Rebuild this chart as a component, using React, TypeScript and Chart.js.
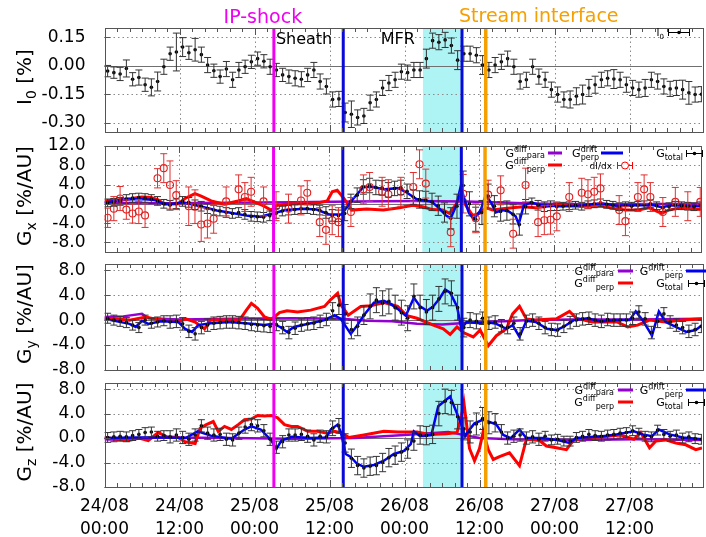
import React, { useEffect, useRef } from 'react';
import { Chart, registerables } from 'chart.js';
Chart.register(...registerables);

const FAM = '"DejaVu Sans", sans-serif';
const X_MAX = 95.6;

// Event times (hours since 24/08 00:00)
const EVT_SHOCK = 27.1;
const EVT_MFR_START = 38.2;
const EVT_CYAN_START = 50.95;
const EVT_MFR_END = 57.2;
const EVT_STREAM = 61.0;

const HOURS = [0.5,1.5,2.5,3.5,4.5,5.5,6.5,7.5,8.5,9.5,10.5,11.5,12.5,13.5,14.5,15.5,16.5,17.5,18.5,19.5,
  20.5,21.5,22.5,23.5,24.5,25.5,26.5,27.5,28.5,29.5,30.5,31.5,32.5,33.5,34.5,35.5,36.5,37.5,38.5,39.5,
  40.5,41.5,42.5,43.5,44.5,45.5,46.5,47.5,48.5,49.5,50.5,51.5,52.5,53.5,54.5,55.5,56.5,57.5,58.5,59.5,
  60.5,61.5,62.5,63.5,64.5,65.5,66.5,67.5,68.5,69.5,70.5,71.5,72.5,73.5,74.5,75.5,76.5,77.5,78.5,79.5,
  80.5,81.5,82.5,83.5,84.5,85.5,86.5,87.5,88.5,89.5,90.5,91.5,92.5,93.5,94.5,95.5];

const I0_V = [-0.028,-0.036,-0.043,-0.014,-0.071,-0.062,-0.10,-0.114,-0.083,-0.005,
  0.064,0.073,0.099,0.069,0.085,0.059,0.004,-0.026,-0.057,-0.017,
  -0.074,-0.022,-0.005,0.021,0.038,0.024,-0.005,-0.022,-0.048,-0.057,
  -0.066,-0.071,-0.048,-0.022,-0.083,-0.109,-0.178,-0.175,-0.247,-0.256,
  -0.273,-0.265,-0.195,-0.178,-0.117,-0.091,-0.074,-0.031,-0.036,-0.022,
  -0.022,0.038,0.133,0.125,0.137,0.107,0.030,0.064,0.064,0.056,
  0.004,-0.022,0.004,0.021,0.038,-0.005,-0.083,-0.074,-0.005,-0.057,
  -0.074,-0.126,-0.152,-0.178,-0.178,-0.161,-0.152,-0.117,-0.100,-0.074,
  -0.066,-0.070,-0.074,-0.100,-0.117,-0.126,-0.117,-0.074,-0.083,-0.109,
  -0.122,-0.117,-0.126,-0.143,-0.152,-0.150];
const I0_E = [0.03,0.03,0.035,0.045,0.035,0.04,0.035,0.045,0.05,0.04,
  0.035,0.1,0.05,0.035,0.06,0.04,0.04,0.035,0.035,0.04,
  0.04,0.04,0.035,0.035,0.035,0.035,0.04,0.035,0.035,0.035,
  0.04,0.04,0.035,0.04,0.04,0.04,0.04,0.04,0.05,0.07,
  0.04,0.04,0.04,0.04,0.04,0.04,0.04,0.04,0.04,0.04,
  0.04,0.05,0.04,0.04,0.04,0.04,0.05,0.04,0.04,0.04,
  0.05,0.04,0.04,0.04,0.04,0.04,0.04,0.04,0.04,0.04,
  0.04,0.04,0.04,0.04,0.045,0.045,0.05,0.045,0.045,0.04,
  0.04,0.05,0.04,0.04,0.04,0.04,0.045,0.04,0.04,0.04,
  0.04,0.04,0.05,0.06,0.04,0.04];

// ---- Gx ----
const GX_V = [0.2,0.3,0.5,1.0,1.2,1.3,1.2,1.0,0.6,0.0,
  -0.3,0.0,0.5,0.3,-0.2,-0.5,-1.0,-1.3,-1.5,-1.8,
  -2.0,-1.8,-2.2,-2.6,-2.7,-2.8,-2.5,-2.0,-1.5,-1.3,
  -1.2,-1.0,-1.0,-1.2,-1.3,-1.8,-2.4,-2.5,-2.0,0.5,
  1.8,3.5,3.8,3.4,3.3,2.9,3.2,3.4,2.6,1.4,
  0.9,0.8,0.4,-0.4,-1.8,-3.0,-0.5,3.8,0.0,-3.2,
  -1.8,1.6,-0.5,-1.6,-1.4,-2.2,-4.3,-0.6,0.2,-0.3,
  -0.6,-0.4,-0.6,-0.5,-0.4,-0.3,-0.5,-0.2,0.0,0.2,
  -0.1,-0.3,-0.6,-0.4,-0.5,-0.3,-0.2,0.0,-0.4,-0.8,
  -0.6,-0.3,-0.4,-0.5,-0.6,-0.4];
const GX_E = [0.8,0.8,0.8,0.9,0.9,0.9,0.9,0.9,0.9,0.9,
  1.0,1.0,1.0,1.0,1.0,1.0,1.0,1.0,1.0,1.0,
  1.0,1.0,1.0,1.0,1.0,1.0,1.0,1.0,1.0,1.0,
  1.0,1.0,1.0,1.0,1.0,1.2,1.2,1.2,1.5,1.5,
  1.5,1.5,1.5,1.5,1.5,1.5,1.5,1.5,1.5,1.5,
  1.8,1.8,1.8,2.0,2.0,2.2,2.5,3.0,2.5,2.5,
  2.5,2.5,2.2,2.0,2.0,2.0,2.2,1.5,1.0,1.0,
  1.0,1.0,0.8,0.8,0.8,0.8,0.8,0.8,0.8,0.8,
  0.8,0.8,0.8,0.8,0.8,0.8,0.8,0.8,0.8,0.8,
  0.8,0.8,0.8,0.8,0.8,0.8];
const DIDX_T = [0.5,1.5,2.5,3.5,4.5,5.5,6.5,8.5,9.5,10.5,11.5,13.5,14.5,15.5,16.5,17.5,19.5,21.5,22.5,23.5,
  25.5,27.5,29.5,31.5,32.5,34.5,35.5,36.5,37.5,39.5,41.5,42.5,44.5,45.5,47.5,49.5,50.5,51.5,55.5,57.5,
  59.5,61.5,63.5,65.5,67.5,69.5,70.5,71.5,72.5,74.5,76.5,77.5,78.5,79.5,82.5,83.5,85.5,86.5,87.5,89.5,
  91.5,93.5,95.5];
const DIDX_V = [-2.9,-1.0,1.1,-1.2,-2.0,-1.6,-2.4,5.3,7.4,3.9,1.8,-0.5,-0.6,-4.3,-4.1,-3.1,0.5,3.0,1.4,2.5,
  0.5,-0.5,-1.0,0.7,2.3,-3.8,-5.4,-3.4,-3.8,-1.7,3.0,3.5,2.5,2.0,2.5,3.5,8.2,4.2,-5.9,2.1,
  -3.0,1.9,2.8,-6.2,3.9,-3.8,-3.4,-3.3,-2.6,1.4,2.3,2.0,2.5,3.2,-1.3,-3.6,1.4,3.0,1.4,-1.7,
  0.4,-0.5,0.4];
const DIDX_E = [2.0,2.5,2.5,2.0,2.0,2.5,2.5,2.0,3.0,5.0,3.0,4.0,3.5,3.5,3.0,3.0,3.0,3.0,3.0,3.0,
  3.0,3.0,3.0,3.0,2.5,3.0,3.0,3.0,3.0,3.0,3.0,3.0,3.0,3.0,3.0,3.0,3.0,3.0,3.0,4.0,
  3.0,3.0,3.0,3.0,3.5,3.0,3.0,3.0,3.0,3.0,3.0,3.0,3.0,3.0,3.0,3.0,3.0,3.0,3.0,3.0,
  3.0,3.0,3.0];
const GX_DIFF_PARA: [number, number][] = [[0,0.2],[10,0.1],[20,0.2],[30,0.3],[40,0.5],[50,0.6],[58,0.5],[62,0.3],[70,0],[80,-0.1],[95.6,0]];
const GX_DIFF_PERP: [number, number][] = [[0,0.6],[2,0.8],[4.3,1.1],[6,1.4],[7.5,1.3],[8.6,0.8],[9.6,-0.1],[11.8,0],[12.9,1.1],[14.5,2.1],
  [15.5,1.6],[17.1,0.6],[19.2,-0.1],[21.4,0.6],[22.7,1.1],[24,0.4],[25.6,-0.5],[26.7,-1.3],[27.7,-0.3],[29.9,0],
  [33.6,0],[35.7,0.6],[36.5,2.5],[37.3,2.8],[38.4,1.1],[39.1,-0.3],[39.6,-1.3],[42,-1.1],[44.7,-1.3],[47.3,-0.8],
  [49.4,-0.3],[51,-0.6],[52.6,-1.2],[54.2,-1.3],[55.3,-2.0],[56.4,0],[57.1,1.9],[57.9,-0.3],[59,-2.4],[60.1,-2.0],
  [61.1,-0.8],[62.2,-1.3],[63.8,-1.0],[67,-0.6],[69.1,-0.8],[72.3,-0.3],[76.5,-0.5],[79.7,-0.5],[81.9,-1.0],[83.5,-1.3],
  [85.6,-1.3],[87.2,-0.8],[89.3,-2.0],[90.4,-1.3],[92.5,-0.8],[95.6,-1.2]];
const GX_DRIFT_PERP: [number, number][] = [[0,0.2],[3,0.9],[6,1.0],[8,0.8],[9.5,0],[11,0],[12.5,0.3],[15,-0.4],[18,-1.4],[20,-1.8],
  [23,-2.5],[25,-2.7],[27,-2.0],[29,-1.3],[32,-1.0],[34,-1.2],[36,-2.2],[38,-2.2],[39.5,0.5],[41.5,3.5],
  [43,3.5],[45,3.0],[47,3.3],[48.5,2.3],[50,1.0],[52.5,0.4],[53.7,-1.0],[54.7,-2.4],[55.5,-3.0],[56.4,-0.3],
  [57.1,3.6],[57.6,1.4],[58.4,-1.9],[59.2,-3.2],[60.3,-1.3],[61.1,1.8],[62,0.2],[62.7,-1.8],[63.8,-1.3],[64.8,-1.6],
  [65.9,-2.6],[66.4,-4.2],[67.2,-0.4],[68.3,0.3],[70,-0.3],[73,-0.5],[76,-0.4],[79.7,0.1],[82,-0.4],[86,-0.3],
  [88,-0.3],[89.3,-0.7],[91,-0.3],[95.6,-0.5]];

// ---- Gy ----
const GY_V = [0.3,0.0,-0.2,-0.4,-0.8,-1.2,0.0,-0.5,-0.3,-0.1,
  -0.3,-0.2,-0.6,-1.8,-2.2,-1.2,-0.8,-0.5,-0.4,-0.3,
  -0.3,-0.4,-0.5,-0.7,-0.8,-0.9,-1.0,-0.7,-1.2,-2.0,
  -1.3,-0.8,-0.6,-0.5,-0.2,0.1,1.5,2.4,1.0,-1.5,
  -1.0,0.8,2.2,3.2,2.7,3.0,2.0,1.2,0.3,3.8,
  2.0,1.3,2.0,3.4,4.6,4.3,2.0,-1.2,0.0,-0.2,
  0.3,-0.5,-0.3,-0.9,-1.2,-0.5,-2.2,-0.2,0.0,-0.5,
  -1.2,-1.5,-1.6,-1.0,-0.4,0.0,0.2,0.3,0.0,-0.2,
  0.1,0.0,0.0,0.0,0.3,1.3,0.2,-2.0,-0.2,1.0,
  -0.3,-0.8,-1.2,-1.8,-1.5,-1.0];
const GY_E = [0.8,0.8,0.8,0.8,0.8,0.8,0.8,0.8,0.8,0.8,
  1.0,1.0,1.0,1.0,1.0,1.0,1.0,1.0,1.0,1.0,
  1.0,1.0,1.0,1.0,1.0,1.0,1.0,1.0,1.0,1.0,
  1.0,1.0,1.0,1.0,1.0,1.0,1.3,1.5,1.5,1.5,
  1.5,1.5,2.0,2.0,2.0,2.0,2.0,2.0,2.0,2.0,
  2.0,2.0,2.0,2.0,2.0,2.0,2.0,1.5,1.2,1.2,
  1.0,1.0,1.0,1.0,1.0,1.0,1.0,1.0,1.0,1.0,
  1.0,1.0,1.0,1.0,1.0,1.0,1.0,1.0,1.0,1.0,
  1.0,1.0,1.0,1.0,1.0,1.0,1.0,1.0,1.0,1.0,
  1.0,1.0,1.0,1.0,1.0,1.0];
const GY_DIFF_PARA: [number, number][] = [[0,0.5],[3,0.6],[6,1.0],[7,0.3],[12,0.1],[20,0.2],[30,0.3],[38,0.2],[42,-0.1],[46,-0.2],
  [50,-0.6],[54,-0.7],[57,-0.5],[60,-0.3],[64,-0.2],[68,0],[75,0.1],[85,0.1],[95.6,0.2]];
const GY_DIFF_PERP: [number, number][] = [[0,0.3],[4,0],[6.6,0.5],[8,0.2],[11.8,-0.3],[13,0.2],[14.5,-0.3],[16,-1.4],[17,0],[21.6,0],
  [22.7,1.6],[23.5,2.7],[24.5,1.9],[25.6,0.5],[26.7,0.1],[28,1.2],[29.2,1.5],[30.9,1.3],[33,1.6],[35.2,2.2],
  [36.2,3.3],[37.3,4.3],[37.8,2.5],[39,0.8],[41,2.2],[42.6,2.3],[44.7,2.8],[46.9,2.2],[48.4,0.7],[50,0.3],
  [52.6,-0.8],[54.2,-1.4],[55.3,-2.3],[56.4,-1.1],[57.4,-2.0],[59,-2.7],[60.1,-1.6],[61.4,-4.1],[62.7,-2.5],[64.3,-1.4],
  [65.3,1.0],[66.4,2.2],[67.5,0.2],[69,0],[72.3,0.2],[74.4,1.4],[75.5,0.3],[78,-0.3],[82,-0.3],[83.7,-1.1],
  [85.3,-0.8],[87.2,0],[89.7,-0.3],[92.5,0],[95.6,0.2]];
const GY_DRIFT_PERP: [number, number][] = [[0,0.2],[2,-0.2],[4,-0.6],[5,-1.1],[6,-0.1],[7,-0.6],[9,-0.2],[11.8,-0.3],[12.9,-1.4],[14,-1.9],
  [15,-0.8],[17,-0.5],[20,-0.3],[23.5,-0.6],[25.6,-0.8],[27,-0.6],[28.1,-1.1],[29.2,-1.9],[30.3,-1.1],[33,-0.5],
  [35.2,0],[36.8,0.8],[37.8,0.2],[38.6,-1.0],[39.4,-2.2],[40.4,-0.9],[41.5,0.8],[43.1,2.8],[44.7,3.1],[45.8,2.6],
  [46.9,1.8],[48.2,0.7],[49.5,3.6],[50.5,2.2],[51.6,1.5],[52.6,2.2],[53.7,3.6],[54.5,4.9],[55.3,4.4],[56.4,2.2],
  [57.1,-1.4],[57.9,-0.3],[60,-0.5],[61.1,-0.3],[62.7,-0.6],[64.3,-1.4],[65.3,-0.8],[66.4,-2.7],[67.5,-0.1],[69,-0.3],
  [70.8,-1.4],[72.3,-1.6],[73.4,-1.1],[75.1,0],[77.3,0.3],[79.4,-0.2],[81.9,0],[84,0],[85,1.4],[86.1,0],
  [87.6,-2.5],[88.7,1.4],[89.8,-0.3],[91.4,-1.1],[93.1,-1.9],[94.6,-1.6],[95.6,-0.8]];

// ---- Gz ----
const GZ_V = [0.1,0.2,0.3,0.2,0.4,0.6,0.9,1.0,0.3,0.4,
  0.2,0.5,0.1,-0.2,0.5,2.0,0.8,0.5,0.6,-0.2,
  -0.3,0.8,1.8,2.2,2.0,1.2,-0.2,-1.5,-0.6,0.5,
  0.5,0.6,0.3,-0.3,0.3,0.2,1.6,2.0,-0.8,-3.3,
  -4.5,-4.9,-4.6,-4.5,-4.0,-3.2,-2.8,-2.3,-1.8,-0.5,
  0.5,0.4,0.6,4.0,6.0,5.8,3.5,1.5,1.0,2.3,
  3.2,2.5,2.5,1.0,0.0,0.3,0.5,0.0,0.2,-0.2,
  0.3,-0.3,-0.2,-0.5,-0.5,0.1,0.3,0.6,0.4,0.3,
  0.5,0.6,0.8,0.9,1.2,0.8,0.3,0.2,1.3,0.6,
  0.3,0.5,0.0,0.2,-0.1,-0.2];
const GZ_E = [0.8,0.8,0.8,0.8,0.8,0.8,0.8,0.8,0.8,0.8,
  1.0,1.0,1.0,1.0,1.0,1.0,1.0,1.0,1.0,1.0,
  1.0,1.0,1.0,1.0,1.0,1.0,1.0,1.0,1.0,1.0,
  1.0,1.0,1.0,1.0,1.0,1.0,1.2,1.2,1.5,1.5,
  1.5,1.5,1.5,1.5,1.5,1.5,1.5,1.5,1.5,1.5,
  1.5,1.5,1.5,2.0,2.0,2.0,2.0,1.8,1.8,1.8,
  1.8,1.8,1.5,1.2,1.0,1.0,1.0,1.0,1.0,1.0,
  0.8,0.8,0.8,0.8,0.8,0.8,0.8,0.8,0.8,0.8,
  0.8,0.8,0.8,0.8,0.8,0.8,0.8,0.8,0.8,0.8,
  0.8,0.8,0.8,0.8,0.8,0.8];
const GZ_DIFF_PARA: [number, number][] = [[0,-0.2],[3,-0.3],[6,0],[10,0.1],[20,0],[30,-0.1],[40,0],[48,0.5],[52,0.8],[55,1.0],
  [57,0.6],[60,0],[65,-0.2],[75,-0.3],[85,-0.2],[95.6,-0.3]];
const GZ_DIFF_PERP: [number, number][] = [[0,0.1],[2,-0.2],[3.9,-0.4],[5.5,0],[7,-0.4],[8.6,0.9],[10,0.2],[11.8,0.1],[12.9,-0.6],[14.5,-0.9],
  [15.3,1.6],[16.3,2.2],[17.4,2.7],[18.2,1.1],[19.2,1.9],[20.3,1.4],[21.4,2.2],[22.4,3.0],[23.5,3.1],[24.5,3.7],
  [25.6,3.6],[26.7,3.7],[27.7,3.3],[28.8,2.2],[29.9,1.9],[30.9,1.9],[32.5,1.1],[34,1.1],[35.7,0.8],[36.8,1.1],
  [38,0.8],[39.1,0.1],[41.5,0.5],[44.7,1.1],[47,1.0],[50,1.0],[52,0.6],[54.7,0.7],[56.4,0.9],[57.1,3.6],
  [57.5,5.8],[57.9,2.5],[58.4,-1.7],[59.2,-3.7],[60,-1.7],[60.6,1.1],[61.4,-1.9],[62.2,-3.5],[63.3,-3.0],[64.8,-2.4],
  [66.4,-4.5],[67.5,-0.2],[69.6,-0.4],[70.7,-1.3],[72.3,-1.6],[73.9,-1.9],[75,-0.4],[76.5,0],[79.7,0.2],[82.6,0.5],
  [84.7,-0.2],[85.8,0.9],[87.2,-1.6],[88.2,-0.5],[89.8,-0.3],[91.4,-0.8],[93,-1.1],[94.6,-1.9],[95.6,-1.6]];
const GZ_DRIFT_PERP: [number, number][] = [[0,0],[5,0.1],[10,0.1],[13,0],[14.9,1.1],[17,0.4],[20.3,-0.1],[22.4,1.4],[23.5,1.9],[25,1.4],
  [26.7,-0.4],[27.5,-1.8],[28.3,-0.4],[30,0.2],[33,0],[35.5,0.1],[36.2,1.4],[37.3,2.2],[37.8,1.0],[38.6,-2.6],
  [39.4,-3.1],[40.4,-4.2],[41.5,-4.7],[43.1,-4.4],[44.7,-3.7],[46.3,-2.6],[47.9,-2.1],[49,-1.0],[49.5,1.1],[50.5,0.3],
  [52.3,0.5],[53.4,5.2],[55.3,6.8],[56.4,4.0],[57.1,2.2],[57.7,0.3],[58.2,1.1],[59.2,2.4],[60.6,3.0],[61.7,2.6],
  [62.7,2.2],[63.8,0.5],[65,0],[66.4,1.4],[67.5,0],[70,0],[72.3,-0.3],[74.4,-0.8],[75.5,0],[79.7,0.3],
  [81.9,0.6],[84.7,1.1],[86.1,0.6],[87.6,0.3],[88.7,1.4],[90.4,0.6],[92.5,0.1],[95.6,-0.2]];

const C_PARA = '#9400d3';
const C_PERP = '#ff0000';
const C_DRIFT = '#0000f0';
const C_SHOCK = '#f000f0';
const C_MFR = '#0a0ad8';
const C_STREAM = '#f5a000';
const C_CYAN = '#aef4f4';

// [text, font size, vertical offset, stackWithNext?]
type Part = [string, number, number, boolean?];

function pts(ts: number[], vs: number[]) { return vs.map((v, i) => ({ x: ts[i], y: v })); }
function pairs(p: [number, number][]) { return p.map(([x, y]) => ({ x, y })); }

function lineDs(p: [number, number][], color: string, w: number) {
  return { data: pairs(p), showLine: true, borderColor: color, backgroundColor: color, borderWidth: w, pointRadius: 0, tension: 0, fill: false };
}
function totalDs(vs: number[], es: number[]) {
  return { data: pts(HOURS, vs), showLine: false, pointRadius: 1.8, pointBackgroundColor: '#000', pointBorderColor: '#000', pointBorderWidth: 0, errors: es, errColor: '#333', cap: 3.5 };
}

function layoutRich(ctx: CanvasRenderingContext2D, parts: Part[]) {
  const xs: number[] = [];
  let cx = 0;
  let pending = 0;
  for (const [t, s, , stack] of parts) {
    ctx.font = `${s}px ${FAM}`;
    const w = ctx.measureText(t).width;
    xs.push(cx);
    if (stack) { pending = Math.max(pending, w); }
    else { cx += Math.max(pending, w); pending = 0; }
  }
  return { xs, width: cx + pending };
}

function drawRich(ctx: CanvasRenderingContext2D, parts: Part[], x: number, base: number, align: 'left' | 'right' | 'center') {
  const { xs, width } = layoutRich(ctx, parts);
  const x0 = align === 'left' ? x : align === 'right' ? x - width : x - width / 2;
  ctx.textAlign = 'left';
  ctx.textBaseline = 'alphabetic';
  parts.forEach(([t, s, dy], i) => { ctx.font = `${s}px ${FAM}`; ctx.fillText(t, x0 + xs[i], base + dy); });
}

type LegendItem = { parts: Part[]; right: number; y: number; kind: 'line' | 'err' | 'errc'; x1: number; x2: number; color: string };

function legendFor(idx: number): LegendItem[] {
  const gPara: Part[] = [['G', 11, 0], ['diff', 8, -5], ['para', 8, 1]];
  const gPerp: Part[] = [['G', 11, 0], ['diff', 8, -5], ['perp', 8, 3]];
  const gDrift: Part[] = [['G', 11, 0], ['drift', 8, -5], ['perp', 8, 3]];
  const gDriftStacked: Part[] = [['G', 11, 0], ['drift', 8, -5, true], ['perp', 8, 3]];
  const gTot: Part[] = [['G', 11, 0], ['total', 8, 3]];
  if (idx === 0) return [{ parts: [['I', 10, 0], ['0', 7, 3]], right: 664, y: 32, kind: 'err', x1: 668, x2: 690, color: '#000' }];
  if (idx === 1) return [
    { parts: gPara, right: 545, y: 153, kind: 'line', x1: 548, x2: 562, color: C_PARA },
    { parts: gPerp, right: 545, y: 165, kind: 'line', x1: 548, x2: 562, color: C_PERP },
    { parts: gDriftStacked, right: 599, y: 153, kind: 'line', x1: 601, x2: 623, color: C_DRIFT },
    { parts: [['dI/dx', 9, 0]], right: 612, y: 165, kind: 'errc', x1: 617, x2: 633, color: C_PERP },
    { parts: gTot, right: 683, y: 153, kind: 'err', x1: 686, x2: 703, color: '#000' },
  ];
  const t = idx === 2 ? 264 : 383;
  return [
    { parts: gPara, right: 614, y: t + 7, kind: 'line', x1: 618, x2: 633, color: C_PARA },
    { parts: gPerp, right: 614, y: t + 19, kind: 'line', x1: 618, x2: 633, color: C_PERP },
    { parts: gDrift, right: 683, y: t + 7, kind: 'line', x1: 686, x2: 706, color: C_DRIFT },
    { parts: gTot, right: 683, y: t + 19, kind: 'err', x1: 688, x2: 705, color: '#000' },
  ];
}

type Panel = { top: number; bottom: number; yMin: number; yMax: number; step: number; dec: number; title: Part[]; datasets: any[] };

const PANELS: Panel[] = [
  { top: 28, bottom: 132, yMin: -0.35, yMax: 0.2, step: 0.15, dec: 2,
    title: [['I', 20, 0], ['0', 14, 5], [' [%]', 20, 0]],
    datasets: [totalDs(I0_V, I0_E)] },
  { top: 146, bottom: 252, yMin: -10, yMax: 12, step: 4, dec: 1,
    title: [['G', 20, 0], ['x', 14, 5], [' [%/AU]', 20, 0]],
    datasets: [totalDs(GX_V, GX_E),
      { data: pts(DIDX_T, DIDX_V), showLine: false, pointRadius: 3.5, pointBackgroundColor: 'rgba(0,0,0,0)', pointBorderColor: '#e02020', pointBorderWidth: 1.1, errors: DIDX_E, errColor: '#e03030', cap: 3.5 },
      lineDs(GX_DRIFT_PERP, C_DRIFT, 2.5), lineDs(GX_DIFF_PERP, C_PERP, 3), lineDs(GX_DIFF_PARA, C_PARA, 2.5)] },
  { top: 264, bottom: 370, yMin: -8, yMax: 9, step: 4, dec: 1,
    title: [['G', 20, 0], ['y', 14, 5], [' [%/AU]', 20, 0]],
    datasets: [totalDs(GY_V, GY_E), lineDs(GY_DRIFT_PERP, C_DRIFT, 2.5), lineDs(GY_DIFF_PERP, C_PERP, 3), lineDs(GY_DIFF_PARA, C_PARA, 2.5)] },
  { top: 383, bottom: 487, yMin: -8, yMax: 9, step: 4, dec: 1,
    title: [['G', 20, 0], ['z', 14, 5], [' [%/AU]', 20, 0]],
    datasets: [totalDs(GZ_V, GZ_E), lineDs(GZ_DRIFT_PERP, C_DRIFT, 2.5), lineDs(GZ_DIFF_PERP, C_PERP, 3), lineDs(GZ_DIFF_PARA, C_PARA, 2.5)] },
];

function makeDecor(p: Panel, idx: number) {
  return {
    id: 'decor' + idx,
    beforeDatasetsDraw(chart: any) {
      const { ctx, chartArea: a, scales: { x, y } } = chart;
      ctx.save();
      const c1 = x.getPixelForValue(EVT_CYAN_START), c2 = x.getPixelForValue(EVT_MFR_END);
      ctx.fillStyle = C_CYAN;
      ctx.fillRect(c1, a.top, c2 - c1, a.bottom - a.top);
      ctx.strokeStyle = '#8a8a8a';
      ctx.lineWidth = 1;
      ctx.setLineDash([1.5, 3]);
      for (const t of x.ticks) {
        if (t.value <= 0) continue;
        const px = Math.round(x.getPixelForValue(t.value)) + 0.5;
        ctx.beginPath(); ctx.moveTo(px, a.top); ctx.lineTo(px, a.bottom); ctx.stroke();
      }
      for (const t of y.ticks) {
        const py = Math.round(y.getPixelForValue(t.value)) + 0.5;
        if (t.value === 0) continue;
        ctx.beginPath(); ctx.moveTo(a.left, py); ctx.lineTo(a.right, py); ctx.stroke();
      }
      ctx.setLineDash([]);
      ctx.strokeStyle = '#707070';
      const zy = Math.round(y.getPixelForValue(0)) + 0.5;
      ctx.beginPath(); ctx.moveTo(a.left, zy); ctx.lineTo(a.right, zy); ctx.stroke();
      ctx.restore();
    },
    afterDatasetsDraw(chart: any) {
      const { ctx, chartArea: a, scales: { x, y } } = chart;
      ctx.save();
      ctx.beginPath(); ctx.rect(a.left, a.top, a.right - a.left, a.bottom - a.top); ctx.clip();
      chart.data.datasets.forEach((ds: any) => {
        if (!ds.errors) return;
        ctx.strokeStyle = ds.errColor;
        ctx.lineWidth = 1;
        ds.data.forEach((d: any, j: number) => {
          const e = ds.errors[j];
          const px = x.getPixelForValue(d.x);
          const y1 = y.getPixelForValue(d.y + e), y2 = y.getPixelForValue(d.y - e);
          ctx.beginPath();
          ctx.moveTo(px, y1); ctx.lineTo(px, y2);
          ctx.moveTo(px - ds.cap, y1); ctx.lineTo(px + ds.cap, y1);
          ctx.moveTo(px - ds.cap, y2); ctx.lineTo(px + ds.cap, y2);
          ctx.stroke();
        });
      });
      const ev: [number, string, number][] = [[EVT_SHOCK, C_SHOCK, 3], [EVT_MFR_START, C_MFR, 3], [EVT_MFR_END, C_MFR, 3], [EVT_STREAM, C_STREAM, 3.5]];
      for (const [t, c, w] of ev) {
        const px = x.getPixelForValue(t);
        ctx.strokeStyle = c; ctx.lineWidth = w;
        ctx.beginPath(); ctx.moveTo(px, a.top); ctx.lineTo(px, a.bottom); ctx.stroke();
      }
      ctx.restore();

      ctx.save();
      ctx.strokeStyle = '#555';
      ctx.lineWidth = 1;
      ctx.strokeRect(Math.round(a.left) + 0.5, Math.round(a.top) + 0.5, Math.round(a.right - a.left), Math.round(a.bottom - a.top));
      ctx.beginPath();
      for (let h = 0; h <= X_MAX; h += 2) {
        const px = Math.round(x.getPixelForValue(h)) + 0.5;
        const len = h % 12 === 0 ? 7 : 4;
        ctx.moveTo(px, a.bottom); ctx.lineTo(px, a.bottom - len);
        ctx.moveTo(px, a.top); ctx.lineTo(px, a.top + len);
      }
      for (const t of y.ticks) {
        const py = Math.round(y.getPixelForValue(t.value)) + 0.5;
        ctx.moveTo(a.left, py); ctx.lineTo(a.left + 6, py);
      }
      ctx.stroke();

      ctx.fillStyle = '#000';
      ctx.save();
      ctx.translate(24, (a.top + a.bottom) / 2 - 3);
      ctx.rotate(-Math.PI / 2);
      drawRich(ctx, p.title, 0, 7, 'center');
      ctx.restore();

      for (const it of legendFor(idx)) {
        ctx.fillStyle = '#000';
        drawRich(ctx, it.parts, it.right, it.y + 4, 'right');
        ctx.strokeStyle = it.color;
        if (it.kind === 'line') {
          ctx.lineWidth = 3;
          ctx.beginPath(); ctx.moveTo(it.x1, it.y); ctx.lineTo(it.x2, it.y); ctx.stroke();
        } else {
          ctx.lineWidth = 1;
          ctx.beginPath();
          ctx.moveTo(it.x1, it.y + 0.5); ctx.lineTo(it.x2, it.y + 0.5);
          ctx.moveTo(it.x1 + 0.5, it.y - 3); ctx.lineTo(it.x1 + 0.5, it.y + 4);
          ctx.moveTo(it.x2 - 0.5, it.y - 3); ctx.lineTo(it.x2 - 0.5, it.y + 4);
          ctx.stroke();
          const mx = (it.x1 + it.x2) / 2;
          if (it.kind === 'err') {
            ctx.fillStyle = it.color;
            ctx.beginPath(); ctx.arc(mx, it.y + 0.5, 1.8, 0, Math.PI * 2); ctx.fill();
          } else {
            ctx.fillStyle = '#fff';
            ctx.beginPath(); ctx.arc(mx, it.y + 0.5, 3.5, 0, Math.PI * 2); ctx.fill(); ctx.stroke();
          }
        }
      }

      if (idx === 0) {
        ctx.textAlign = 'center';
        ctx.textBaseline = 'alphabetic';
        ctx.font = `19px ${FAM}`;
        ctx.fillStyle = C_SHOCK;
        ctx.fillText('IP-shock', x.getPixelForValue(EVT_SHOCK) - 11, 23);
        ctx.fillStyle = C_STREAM;
        ctx.fillText('Stream interface', x.getPixelForValue(EVT_STREAM) + 53, 22);
        ctx.fillStyle = '#000';
        ctx.font = `16px ${FAM}`;
        ctx.textAlign = 'left';
        ctx.fillText('Sheath', x.getPixelForValue(EVT_SHOCK) + 2, 44);
        ctx.fillText('MFR', x.getPixelForValue(44.2), 44);
      }
      ctx.restore();
    },
  };
}

function xLabel(v: number) {
  const d = 24 + Math.floor(v / 24);
  const hh = v % 24;
  return [`${d}/08`, `${hh < 10 ? '0' : ''}${hh}:00`];
}

function buildConfig(p: Panel, idx: number): any {
  return {
    type: 'scatter',
    data: { datasets: p.datasets },
    options: {
      animation: false,
      responsive: false,
      events: [],
      layout: { padding: { top: p.top, left: 0, right: 0, bottom: 0 } },
      plugins: { legend: { display: false }, tooltip: { enabled: false } },
      scales: {
        x: {
          type: 'linear', min: 0, max: X_MAX,
          afterFit: (s: any) => { s.height = 537 - p.bottom; },
          grid: { display: false }, border: { display: false },
          ticks: {
            display: idx === 3, stepSize: 12, includeBounds: false, autoSkip: false, maxRotation: 0, minRotation: 0,
            font: { family: FAM, size: 17, lineHeight: 1.3 }, color: '#000', padding: 1,
            callback: (v: any) => xLabel(Number(v)),
          },
        },
        y: {
          type: 'linear', min: p.yMin, max: p.yMax,
          afterFit: (s: any) => { s.width = 104.5; },
          grid: { display: false }, border: { display: false },
          ticks: {
            stepSize: p.step, includeBounds: false, autoSkip: false,
            font: { family: FAM, size: 17 }, color: '#000', padding: 11,
            callback: (v: any) => Number(v).toFixed(p.dec),
          },
        },
      },
    },
    plugins: [makeDecor(p, idx)],
  };
}

export default function App() {
  const refs = useRef<(HTMLCanvasElement | null)[]>([]);
  useEffect(() => {
    const charts = PANELS.map((p, i) => new Chart(refs.current[i] as HTMLCanvasElement, buildConfig(p, i)));
    return () => charts.forEach((c) => c.destroy());
  }, []);
  return (
    <div style={{ position: 'absolute', left: 0, top: 0, width: 706, height: 537, background: '#fff', overflow: 'hidden' }}>
      {PANELS.map((_, i) => (
        <canvas key={i} ref={(el) => { refs.current[i] = el; }} width={706} height={537}
          style={{ position: 'absolute', left: 0, top: 0, width: 706, height: 537 }} />
      ))}
    </div>
  );
}
